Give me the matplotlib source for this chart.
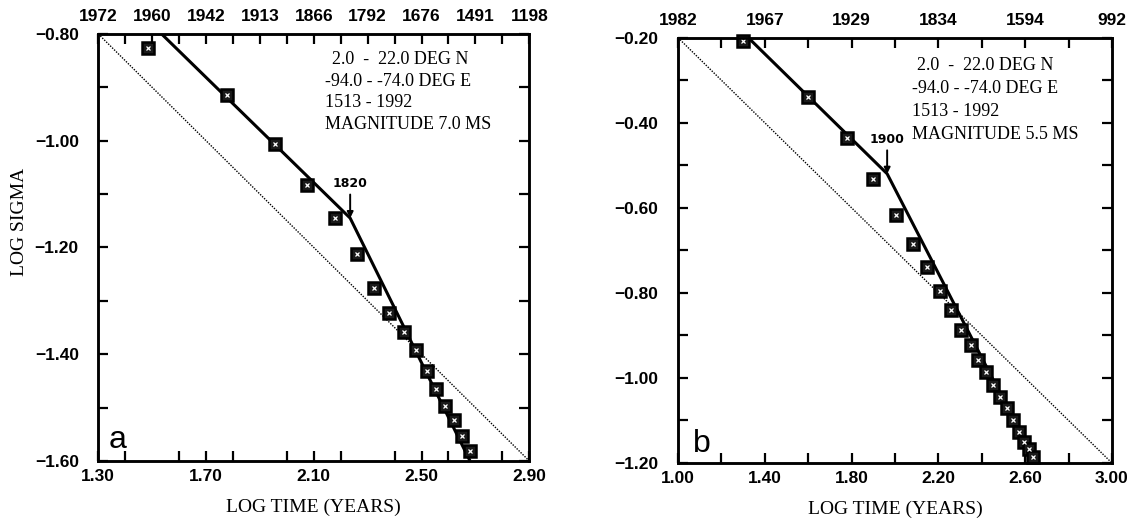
import matplotlib.pyplot as plt
from matplotlib.ticker import MultipleLocator, FixedLocator, FixedFormatter

# ---- panel a: magnitude 7.0 MS ----
a_log_t = [1.483, 1.777, 1.956, 2.074, 2.179, 2.259, 2.323, 2.380, 2.435,
           2.478, 2.519, 2.554, 2.587, 2.620, 2.651, 2.680]
a_log_s = [-0.827, -0.915, -1.006, -1.083, -1.145, -1.212, -1.275, -1.323, -1.358,
           -1.393, -1.431, -1.465, -1.497, -1.524, -1.553, -1.581]
a_fit_x = [1.535, 2.235, 2.68]
a_fit_y = [-0.80, -1.145, -1.60]
a_ref_x = [1.30, 2.90]
a_ref_y = [-0.80, -1.60]
a_bottom_ticks = [1.30, 1.70, 2.10, 2.50, 2.90]
a_top_ticks = [1.3, 1.5, 1.7, 1.9, 2.1, 2.3, 2.5, 2.7, 2.9]
a_top_labels = ['1972', '1960', '1942', '1913', '1866', '1792', '1676', '1491', '1198']
a_break = (2.235, -1.145)
a_break_year = '1820'
a_text = ['2.0  -  22.0 DEG N', '-94.0 - -74.0 DEG E', '1513 - 1992', 'MAGNITUDE 7.0 MS']

# ---- panel b: magnitude 5.5 MS ----
b_log_t = [1.298, 1.600, 1.780, 1.900, 2.005, 2.082, 2.146, 2.207, 2.258, 2.304,
           2.349, 2.384, 2.419, 2.452, 2.486, 2.517, 2.544, 2.572, 2.597, 2.620, 2.637]
b_log_s = [-0.208, -0.340, -0.435, -0.532, -0.618, -0.686, -0.740, -0.796, -0.840, -0.887,
           -0.922, -0.958, -0.987, -1.016, -1.045, -1.070, -1.100, -1.126, -1.150, -1.166, -1.186]
b_fit_x = [1.324, 1.964, 2.64]
b_fit_y = [-0.20, -0.52, -1.19]
b_ref_x = [1.00, 3.00]
b_ref_y = [-0.20, -1.20]
b_bottom_ticks = [1.00, 1.40, 1.80, 2.20, 2.60, 3.00]
b_top_ticks = [1.0, 1.4, 1.8, 2.2, 2.6, 3.0]
b_top_labels = ['1982', '1967', '1929', '1834', '1594', '992']
b_break = (1.964, -0.52)
b_break_year = '1900'
b_text = ['2.0  -  22.0 DEG N', '-94.0 - -74.0 DEG E', '1513 - 1992', 'MAGNITUDE 5.5 MS']

# tick labels: bold sans; all other texts name their own family/weight
plt.rcParams['font.family'] = ['Liberation Sans', 'DejaVu Sans']
plt.rcParams['font.weight'] = 'bold'
plt.rcParams['xtick.labelsize'] = 12.5
plt.rcParams['ytick.labelsize'] = 12.5
SERIF = ['Liberation Serif', 'DejaVu Serif']


def style_axes(ax, xlim, ylim, bottom_ticks, top_ticks, top_labels):
    ax.set_xlim(*xlim)
    ax.set_ylim(*ylim)
    for s in ax.spines.values():
        s.set_linewidth(1.8)
    ax.xaxis.set_major_locator(FixedLocator(bottom_ticks))
    ax.xaxis.set_minor_locator(MultipleLocator(0.2))
    ax.yaxis.set_major_locator(MultipleLocator(0.2))
    ax.yaxis.set_minor_locator(MultipleLocator(0.1))
    ax.xaxis.set_major_formatter(lambda v, p: f'{v:.2f}')
    ax.yaxis.set_major_formatter(lambda v, p: f'{v:.2f}'.replace('-', '\u2212'))
    ax.tick_params(which='both', direction='in', length=7, width=1.6,
                   right=True, top=False)
    ax.tick_params(axis='x', which='both', pad=6)
    ax.tick_params(axis='y', which='both', pad=14)

    top = ax.twiny()
    top.set_xlim(*xlim)
    for s in top.spines.values():
        s.set_linewidth(1.8)
    top.xaxis.set_major_locator(FixedLocator(top_ticks))
    top.xaxis.set_major_formatter(FixedFormatter(top_labels))
    top.xaxis.set_minor_locator(MultipleLocator(0.2))
    top.tick_params(which='both', direction='in', length=7, width=1.6, pad=7)


def draw_panel(ax, t, s, fx, fy, rx, ry, brk, year, lines, tx, ty, dy, letter, lx, ly, yspan):
    ax.plot(rx, ry, color='black', linestyle=(0, (1, 1)), linewidth=1.0)
    ax.plot(fx, fy, color='black', linewidth=2.2, solid_capstyle='butt')
    ax.plot(t, s, linestyle='none', marker='s', markersize=8.5, markerfacecolor='#1a1a1a',
            markeredgecolor='black', markeredgewidth=1.8, zorder=3, clip_on=False)
    ax.plot(t, s, linestyle='none', marker='x', markersize=3.5, color='white',
            markeredgewidth=0.9, zorder=4, clip_on=False)
    ax.annotate(year, xy=brk, xytext=(brk[0], brk[1] + 0.065 * yspan),
                ha='center', va='bottom', fontsize=9, fontweight='bold',
                family=['DejaVu Sans'],
                arrowprops=dict(arrowstyle='-|>', color='black', lw=1.4,
                                mutation_scale=9, shrinkA=1, shrinkB=0))
    for i, line in enumerate(lines):
        ax.text(tx + (0.025 if i == 0 else 0.0), ty - i * dy, line, family=SERIF,
                fontweight='normal', fontsize=13, va='center', ha='left')
    ax.text(lx, ly, letter, family=['Liberation Sans', 'DejaVu Sans'], fontweight='normal',
            fontsize=23, ha='left', va='baseline')


fig = plt.figure(figsize=(11.3, 5.26), dpi=100)
ax_a = fig.add_axes([0.087, 0.1236, 0.3814, 0.8118])
ax_b = fig.add_axes([0.600, 0.1198, 0.3840, 0.8085])

draw_panel(ax_a, a_log_t, a_log_s, a_fit_x, a_fit_y, a_ref_x, a_ref_y, a_break, a_break_year,
           a_text, 2.141, -0.848, 0.0405, 'a', 1.34, -1.575, 0.8)
draw_panel(ax_b, b_log_t, b_log_s, b_fit_x, b_fit_y, b_ref_x, b_ref_y, b_break, b_break_year,
           b_text, 2.077, -0.266, 0.0535, 'b', 1.07, -1.175, 1.0)

style_axes(ax_a, (1.30, 2.90), (-1.60, -0.80), a_bottom_ticks, a_top_ticks, a_top_labels)
style_axes(ax_b, (1.00, 3.00), (-1.20, -0.20), b_bottom_ticks, b_top_ticks, b_top_labels)

ax_a.set_xlabel('LOG TIME (YEARS)', family=SERIF, fontweight='normal', fontsize=14, labelpad=10)
ax_b.set_xlabel('LOG TIME (YEARS)', family=SERIF, fontweight='normal', fontsize=14, labelpad=10)
ax_a.set_ylabel('LOG SIGMA', family=SERIF, fontweight='normal', fontsize=14)
ax_a.yaxis.set_label_coords(-0.163, 0.56)

fig.savefig('out.png', dpi=100, facecolor='white')
